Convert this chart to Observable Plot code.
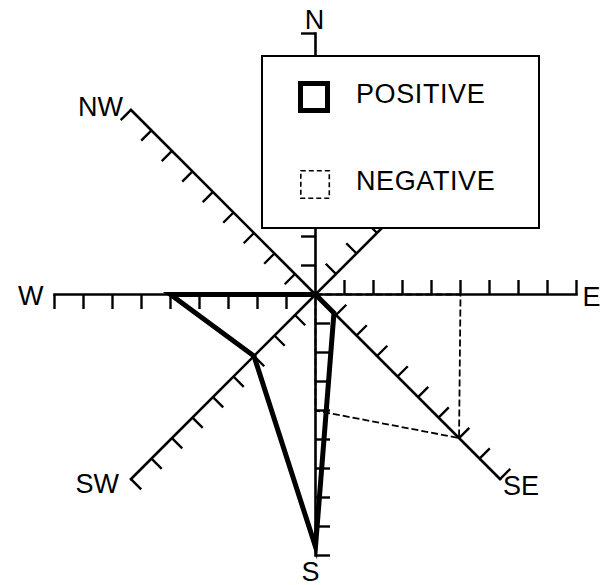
<!DOCTYPE html>
<html>
<head>
<meta charset="utf-8">
<script src="https://cdn.jsdelivr.net/npm/d3@7"></script>
<script src="https://cdn.jsdelivr.net/npm/@observablehq/plot@0.6"></script>
<style>
  html, body { margin: 0; padding: 0; background: #fff; }
  #wrap { position: relative; width: 601px; height: 585px; font-family: "Liberation Sans", Arial, Helvetica, sans-serif; }
  #legend { position: absolute; left: 261px; top: 55px; width: 279px; height: 174px; box-sizing: border-box; background: #fff; }
  #legend svg { display: block; }
</style>
</head>
<body>
<div id="wrap"></div>
<script>
// ---- data ----
const directions = ["N", "NE", "E", "SE", "S", "SW", "W", "NW"];
const bearings = [0, 45, 90, 135, 180, 225, 270, 315];          // compass degrees
const shownLabels = ["N", "E", "SE", "S", "SW", "W", "NW"];       // NE label is hidden behind the legend
const tickValues = [1, 2, 3, 4, 5, 6, 7, 8, 9];
const axisMax = 9;
const positive = [0, 0, 0, 0.9, 8.7, 3, 5, 0];
const negative = [0, 0, 5, 7, 4, 0, 0, 0];
const legendLabels = ["POSITIVE", "NEGATIVE"];

// ---- layout / style ----
const W = 601, H = 585;
const cx = 315, cy = 294, unit = 29;   // centre pixel and pixels per tick
const tickLen = 0.5;                   // in tick units
const labelOffset = {
  N:  {dx: -1, dy: -5,  anchor: "middle"},
  E:  {dx: 6,  dy: 11,  anchor: "start"},
  SE: {dx: 3,  dy: 16,  anchor: "start"},
  S:  {dx: -5, dy: 25,  anchor: "middle"},
  SW: {dx: -12, dy: 14, anchor: "end"},
  W:  {dx: -11, dy: 10, anchor: "end"},
  NW: {dx: -8, dy: 6,   anchor: "end"}
};

const rad = b => b * Math.PI / 180;
const ux = b => Math.sin(rad(b));
const uy = b => Math.cos(rad(b));

const axes = directions.map((d, i) => ({dir: d, b: bearings[i]}));
const ticks = axes.flatMap(a => tickValues.map(k => ({
  bx: k * ux(a.b), by: k * uy(a.b),
  tx: k * ux(a.b) - tickLen * uy(a.b), ty: k * uy(a.b) + tickLen * ux(a.b)
})));
const poly = vals => directions.map((d, i) => ({x: vals[i] * ux(bearings[i]), y: vals[i] * uy(bearings[i])}));
const labels = shownLabels.map(d => {
  const b = bearings[directions.indexOf(d)];
  return {name: d, x: axisMax * ux(b), y: axisMax * uy(b)};
});

const font = '"Liberation Sans", Arial, Helvetica, sans-serif';

const chart = Plot.plot({
  width: W, height: H,
  marginTop: 0, marginRight: 0, marginBottom: 0, marginLeft: 0,
  x: {type: "linear", domain: [-cx / unit, (W - cx) / unit], range: [0, W], axis: null},
  y: {type: "linear", domain: [-(H - cy) / unit, cy / unit], range: [H, 0], axis: null},
  style: {background: "#fff", fontFamily: font},
  marks: [
    Plot.link(axes, {x1: () => 0, y1: () => 0, x2: a => axisMax * ux(a.b), y2: a => axisMax * uy(a.b),
      stroke: "#000", strokeWidth: 2.6, strokeLinecap: "square"}),
    Plot.link(ticks, {x1: "bx", y1: "by", x2: "tx", y2: "ty", stroke: "#000", strokeWidth: 2.4, strokeLinecap: "butt"}),
    Plot.line(poly(negative), {x: "x", y: "y", curve: "linear-closed", stroke: "#000", strokeWidth: 1.8,
      strokeDasharray: "7,3", strokeLinejoin: "miter", strokeLinecap: "butt"}),
    Plot.line(poly(positive), {x: "x", y: "y", curve: "linear-closed", stroke: "#000", strokeWidth: 5,
      strokeLinejoin: "miter", strokeMiterlimit: 10, strokeLinecap: "butt"}),
    ...labels.map(l => Plot.text([l], {x: "x", y: "y", text: "name", fontSize: 27, fill: "#000",
      textAnchor: labelOffset[l.name].anchor, lineAnchor: "bottom",
      dx: labelOffset[l.name].dx, dy: labelOffset[l.name].dy}))
  ]
});

const wrap = document.getElementById("wrap");
wrap.appendChild(chart);

// ---- legend (overlay box) ----
const legend = document.createElement("div");
legend.id = "legend";
const ns = "http://www.w3.org/2000/svg";
const lsvg = document.createElementNS(ns, "svg");
lsvg.setAttribute("width", 279); lsvg.setAttribute("height", 174);
const mk = (tag, attrs) => { const e = document.createElementNS(ns, tag); for (const k in attrs) e.setAttribute(k, attrs[k]); lsvg.appendChild(e); return e; };
mk("rect", {x: 1, y: 1, width: 277, height: 172, fill: "#fff", stroke: "#000", "stroke-width": 2});
const swatchStyles = [
  {sw: 5, dash: null, x: 39.5, y: 28.5, w: 27, h: 27},
  {sw: 1.6, dash: "5,3", x: 39.8, y: 115.8, w: 28.5, h: 27.5}
];
const textBase = [48, 135];
legendLabels.forEach((t, i) => {
  const s = swatchStyles[i];
  const r = mk("rect", {x: s.x, y: s.y, width: s.w, height: s.h, fill: "none", stroke: "#000", "stroke-width": s.sw});
  if (s.dash) r.setAttribute("stroke-dasharray", s.dash);
  const tx = mk("text", {x: 95, y: textBase[i], "font-size": 27, "font-family": font, fill: "#000", "letter-spacing": "0.6"});
  tx.textContent = t;
});
legend.appendChild(lsvg);
wrap.appendChild(legend);
</script>
</body>
</html>
